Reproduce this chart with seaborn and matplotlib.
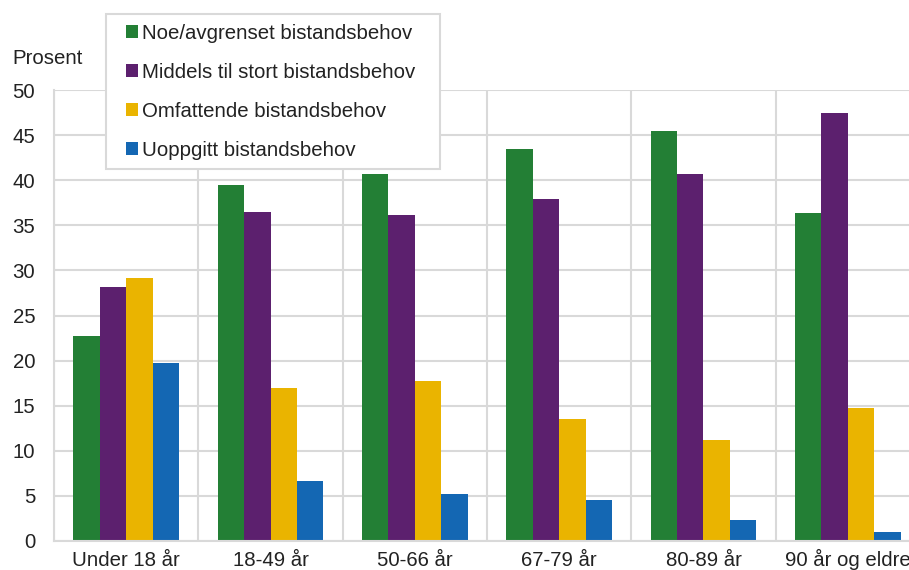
import matplotlib
matplotlib.use("Agg")
import matplotlib.pyplot as plt
from matplotlib.patches import Patch, Rectangle
import seaborn as sns
import pandas as pd

# Age groups and share (percent) by level of assistance need
age_groups = ["Under 18 år", "18-49 år", "50-66 år", "67-79 år", "80-89 år", "90 år og eldre"]
series_names = [
    "Noe/avgrenset bistandsbehov",
    "Middels til stort bistandsbehov",
    "Omfattende bistandsbehov",
    "Uoppgitt bistandsbehov",
]
noe_avgrenset = [22.7, 39.5, 40.7, 43.5, 45.4, 36.4]
middels_stort = [28.2, 36.5, 36.1, 37.9, 40.7, 47.4]
omfattende = [29.2, 17.0, 17.7, 13.5, 11.2, 14.8]
uoppgitt = [19.7, 6.6, 5.2, 4.6, 2.3, 1.0]
y_ticks = [0, 5, 10, 15, 20, 25, 30, 35, 40, 45, 50]
colors = ["#237f35", "#5c206e", "#eab400", "#1467b3"]

values = [noe_avgrenset, middels_stort, omfattende, uoppgitt]
df = pd.DataFrame(
    [
        {"Alder": g, "Behov": name, "Prosent": v}
        for name, vals in zip(series_names, values)
        for g, v in zip(age_groups, vals)
    ]
)

sns.set_theme(style="white")
plt.rcParams["font.family"] = ["Liberation Sans", "DejaVu Sans"]
FS = 14.7
GRID = "#d9d9d9"
TXT = "#222222"

fig = plt.figure(figsize=(9.09, 5.70), dpi=100)
ax = fig.add_axes([54 / 909, 1 - 541 / 570, 866 / 909, 451 / 570])

sns.barplot(
    data=df, x="Alder", y="Prosent", hue="Behov",
    order=age_groups, hue_order=series_names,
    palette=colors, width=0.73, gap=0, linewidth=0,
    legend=False, ax=ax, saturation=1,
)

ax.set_ylim(0, 50)
ax.set_xlim(-0.5, len(age_groups) - 0.5)
ax.set_yticks(y_ticks)
ax.set_yticklabels([str(t) for t in y_ticks], fontsize=FS, color=TXT)
ax.set_xticks(range(len(age_groups)))
ax.set_xticklabels(age_groups, fontsize=FS, color=TXT)
for lab in ax.get_xticklabels():
    lab.set_verticalalignment("baseline")
ax.set_xticks([i - 0.5 for i in range(len(age_groups) + 1)], minor=True)
ax.tick_params(axis="y", which="both", length=0, pad=13.5)
ax.tick_params(axis="x", which="both", length=0, pad=18)
ax.set_xlabel("")
ax.set_ylabel("")

ax.set_axisbelow(True)
ax.grid(axis="y", which="major", color=GRID, linewidth=1.5)
ax.grid(axis="x", which="minor", color=GRID, linewidth=1.5)
ax.grid(axis="x", which="major", visible=False)
for side in ["top", "right"]:
    ax.spines[side].set_visible(False)
for side in ["left", "bottom"]:
    ax.spines[side].set_color(GRID)
    ax.spines[side].set_linewidth(1.5)

fig.text(12 / 909, 1 - 58 / 570, "Prosent", fontsize=FS, color=TXT,
         ha="left", va="center")

# Legend box drawn as a figure-level rectangle, entries on top of it
fig.patches.append(Rectangle(
    (106 / 909, 1 - 169 / 570), (440 - 106) / 909, (169 - 14) / 570,
    transform=fig.transFigure, facecolor="white", edgecolor=GRID,
    linewidth=1.5, zorder=4,
))
handles = [Patch(facecolor=c, edgecolor="none") for c in colors]
fig.legend(
    handles, series_names, loc="upper left",
    bbox_to_anchor=(126 / 909, 1 - 24 / 570), bbox_transform=fig.transFigure,
    frameon=False, fontsize=FS, handlelength=0.58, handleheight=0.58,
    handletextpad=0.2, labelspacing=0.98, borderpad=0, borderaxespad=0,
    labelcolor=TXT,
)

fig.savefig("out.png", dpi=100)
